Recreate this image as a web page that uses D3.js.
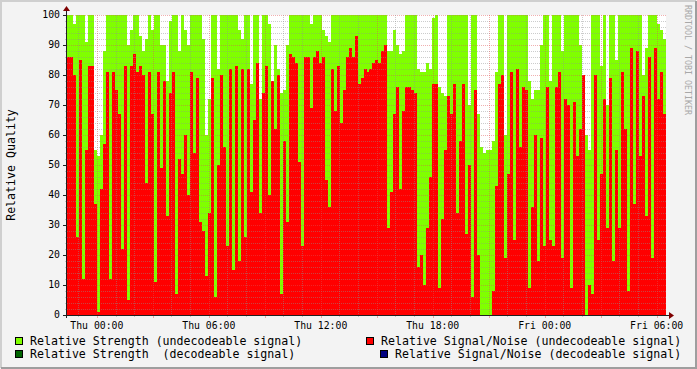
<!DOCTYPE html>
<html>
<head>
<meta charset="utf-8">
<script src="https://cdn.jsdelivr.net/npm/d3@7"></script>
<style>
body { margin: 0; background: #f3f3f3; }
svg { display: block; font-family: "DejaVu Sans Mono", monospace; }
</style>
</head>
<body>
<script>
// relative strength (undecodeable), one value per sample
var strength = [100,100,97,100,100,100,91,100,100,55, 53,60,88,100,100,100,100,100,100,100,
  90,95,100,100,93,88,92,100,95,100, 100,90,90,78,98,100,100,88,100,95,
  90,100,100,100,100,92,60,72,100,100, 82,100,100,100,100,100,100,95,92,100,
  100,77,100,100,72,100,100,97,78,90, 82,74,75,90,100,100,100,100,100,100,
  100,97,100,100,100,95,93,91,100,100, 100,100,100,100,100,100,100,100,100,100,
  100,100,100,100,100,100,100,88,88,95, 90,87,88,100,100,100,100,82,81,81,
  84,82,99,100,76,74,73,100,100,100, 100,100,100,100,70,100,100,67,56,54,
  55,55,58,81,100,100,60,100,100,100, 100,100,100,100,78,72,75,75,90,100,
  100,78,100,100,100,88,100,100,100,100, 100,90,61,60,55,100,100,100,83,100,
  70,100,100,85,100,100,100,100,100,100, 100,100,80,89,100,100,100,97,95,92];

// relative signal/noise (undecodeable)
var snr = [86,86,80,26,85,12,55,83,83,37, 1,42,57,81,12,81,75,67,22,83,
  5,83,87,81,83,80,44,81,67,11, 81,49,78,33,74,81,7,52,47,60,
  40,81,54,79,31,28,13,34,79,6, 50,80,56,23,82,15,83,18,82,26,
  82,41,65,84,34,74,83,40,78,62, 80,7,58,31,87,86,84,51,23,86,
  86,69,86,88,84,86,45,36,82,68, 83,64,75,86,89,86,93,77,79,82,
  81,82,84,85,84,88,90,29,41,67, 76,42,68,76,76,75,74,16,20,10,
  29,46,77,77,9,32,55,73,67,77, 34,58,77,27,50,6,75,20,0,0,
  0,0,8,43,77,80,19,47,81,25, 82,56,76,75,9,36,60,18,59,23,
  76,25,23,76,81,19,72,70,9,71, 53,62,80,0,10,7,80,25,47,72,
  29,79,18,55,29,81,62,8,89,37, 88,53,73,33,86,19,89,72,81,67];

var yTicks = d3.range(0, 101, 10);
var legendNames = [
  "Relative Strength (undecodeable signal)",
  "Relative Strength  (decodeable signal)",
  "Relative Signal/Noise (undecodeable signal)",
  "Relative Signal/Noise (decodeable signal)"
];
var legendColors = ["#80ff00", "#006400", "#ff0000", "#000080"];

var W = 697, H = 369;
var plotL = 67, plotR = 666, plotT = 15, plotB = 315;

var startTime = new Date(2008, 11, 31, 22, 24);
var endTime = new Date(2009, 0, 2, 6, 30);
var step = (endTime - startTime) / strength.length;

var x = d3.scaleTime().domain([startTime, endTime]).range([plotL, plotR]);
var y = d3.scaleLinear().domain([0, 100]).range([plotB, plotT]);

var svg = d3.select("body").append("svg")
    .attr("width", W)
    .attr("height", H);

// frame
svg.append("rect").attr("width", W).attr("height", H).attr("fill", "#f3f3f3");
svg.append("path").attr("d", "M1,368V1H696").attr("stroke", "#cfcfcf").attr("stroke-width", 2).attr("fill", "none");
svg.append("path").attr("d", "M1,368H696V1").attr("stroke", "#9e9e9e").attr("stroke-width", 2).attr("fill", "none");

// canvas
svg.append("rect")
    .attr("x", plotL).attr("y", plotT)
    .attr("width", plotR - plotL).attr("height", plotB - plotT)
    .attr("fill", "#ffffff");

function stepData(vals) {
    var pts = vals.map(function (v, i) {
        return { t: new Date(+startTime + i * step), v: v };
    });
    pts.push({ t: endTime, v: vals[vals.length - 1] });
    return pts;
}

var area = d3.area()
    .x(function (d) { return x(d.t); })
    .y0(y(0))
    .y1(function (d) { return y(d.v); })
    .curve(d3.curveStepAfter);

svg.append("path")
    .datum(stepData(strength))
    .attr("fill", "#80ff00")
    .attr("shape-rendering", "crispEdges")
    .attr("d", area);

svg.append("path")
    .datum(stepData(snr))
    .attr("fill", "#ff0000")
    .attr("shape-rendering", "crispEdges")
    .attr("d", area);

// grid, drawn over the data like rrdtool
var gridColor = "rgba(143,143,143,0.46)";
var mgridColor = "rgba(222,80,80,0.46)";
var grid = svg.append("g").attr("shape-rendering", "crispEdges");

d3.range(0, 101, 2).forEach(function (v) {
    var major = v % 10 === 0;
    var yy = Math.round(y(v)) + 0.5;
    grid.append("line")
        .attr("x1", plotL).attr("x2", plotR)
        .attr("y1", yy).attr("y2", yy)
        .attr("stroke", major ? mgridColor : gridColor)
        .attr("stroke-dasharray", "1,1");
    grid.append("line")
        .attr("x1", plotL - (major ? 4 : 2)).attr("x2", plotL)
        .attr("y1", yy).attr("y2", yy)
        .attr("stroke", major ? "#202020" : gridColor);
});

var hours = d3.timeHour.range(startTime, endTime);
hours.forEach(function (h) {
    var major = h.getHours() % 3 === 0;
    var xx = Math.round(x(h)) + 0.5;
    grid.append("line")
        .attr("x1", xx).attr("x2", xx)
        .attr("y1", plotT).attr("y2", plotB)
        .attr("stroke", major ? mgridColor : gridColor)
        .attr("stroke-dasharray", "1,1");
    grid.append("line")
        .attr("x1", xx).attr("x2", xx)
        .attr("y1", plotB).attr("y2", plotB + (major ? 3 : 2))
        .attr("stroke", major ? mgridColor : gridColor);
});

// axes
var axisColor = "#202020", arrowColor = "#7f0000";
svg.append("line")
    .attr("x1", plotL - 3).attr("x2", plotR + 5)
    .attr("y1", plotB + 0.5).attr("y2", plotB + 0.5)
    .attr("stroke", axisColor);
svg.append("line")
    .attr("x1", plotL - 0.5).attr("x2", plotL - 0.5)
    .attr("y1", plotB + 3).attr("y2", plotT - 6)
    .attr("stroke", axisColor);
svg.append("path")
    .attr("d", "M" + (plotR + 3) + "," + (plotB - 3) + "L" + (plotR + 8) + "," + (plotB + 0.5) + "L" + (plotR + 3) + "," + (plotB + 4) + "Z")
    .attr("fill", arrowColor);
svg.append("path")
    .attr("d", "M" + (plotL - 4) + "," + (plotT - 4) + "L" + (plotL - 0.5) + "," + (plotT - 9) + "L" + (plotL + 3) + "," + (plotT - 4) + "Z")
    .attr("fill", arrowColor);

// y tick labels
svg.append("g").selectAll("text")
    .data(yTicks)
    .enter().append("text")
    .attr("x", 60)
    .attr("y", function (d) { return y(d); })
    .attr("dy", "0.35em")
    .attr("text-anchor", "end")
    .attr("font-size", "9.8px")
    .attr("fill", "#000")
    .text(function (d) { return d; });

// x tick labels
var labelTimes = d3.timeHour.every(6).range(startTime, endTime);
var fmt = d3.timeFormat("%a %H:%M");
svg.append("g").selectAll("text")
    .data(labelTimes)
    .enter().append("text")
    .attr("x", function (d) { return x(d); })
    .attr("y", 329)
    .attr("text-anchor", "middle")
    .attr("font-size", "9.8px")
    .attr("fill", "#000")
    .text(function (d) { return fmt(d); });

// y title
svg.append("text")
    .attr("transform", "translate(15,165) rotate(-90)")
    .attr("text-anchor", "middle")
    .attr("font-size", "11.6px")
    .attr("fill", "#000")
    .text("Relative Quality");

// watermark
svg.append("text")
    .attr("transform", "translate(685,5) rotate(90)")
    .attr("font-size", "8.3px")
    .attr("fill", "#a8a8a8")
    .text("RRDTOOL / TOBI OETIKER");

// legend
var legendPos = [[15, 337], [15, 350], [366, 337], [380, 350]];
legendNames.forEach(function (name, i) {
    var p = legendPos[i];
    svg.append("rect")
        .attr("x", p[0] + 0.5).attr("y", p[1] + 0.5)
        .attr("width", 7).attr("height", 7)
        .attr("fill", legendColors[i])
        .attr("stroke", "#000");
    svg.append("text")
        .attr("x", p[0] + 15)
        .attr("y", p[1] + 8)
        .attr("font-size", "11.6px")
        .attr("fill", "#000")
        .style("white-space", "pre")
        .text(name);
});
</script>
</body>
</html>
